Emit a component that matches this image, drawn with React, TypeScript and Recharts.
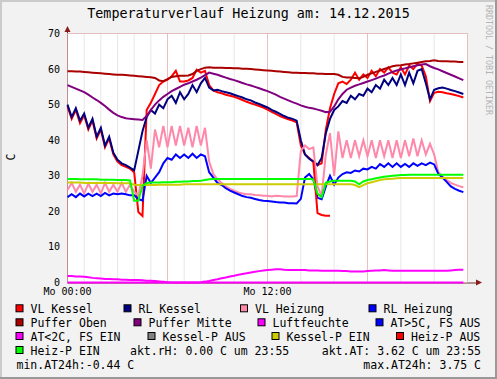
import React from 'react';
import { LineChart, Line, XAxis, YAxis, CartesianGrid } from 'recharts';

// samples every 15 minutes, 00:00 .. 23:45
const VL_KESSEL = [
  49.5, 46, 48.5, 44.8, 47, 43, 45.5, 40.5,
  43, 38, 40.5, 36, 34, 33, 32.5, 32,
  31, 19.8, 18.7, 48.5, 50.5, 53, 55.5, 56.5,
  57, 58, 59.5, 56.5, 56.5, 56.8, 57.5, 59.8,
  59, 59.5, 55.5, 54, 53.5, 53.2, 52.8, 52.5,
  52.2, 51.8, 51.3, 50.8, 50.4, 50, 49.6, 49.2,
  48.6, 48, 47.4, 46.8, 46.3, 45.9, 45.5, 45,
  38.5, 36, 35, 34, 33, 33.5, 43, 49,
  53, 56, 56.5, 55.8, 57, 59, 57, 58.5,
  57.5, 59.5, 58, 60, 59, 60.5, 59, 58.5,
  60.5, 58.5, 61, 60, 61.5, 61, 58, 51,
  53.3, 53.6, 53.5, 53.2, 53, 52.7, 52.4, 52,
];
const RL_KESSEL = [
  50, 46.5, 49, 45.5, 47.5, 43.5, 46, 41,
  43.5, 38.5, 41, 36.5, 34.5, 33.5, 33, 32.3,
  31.5, 37, 42.5, 46.5, 48.5, 47.5, 50, 49,
  51.5, 52.5, 50.5, 53.5, 51.5, 53, 55.5, 53.5,
  56, 57.5, 54.8, 54, 54.2, 53.8, 53.5, 53.2,
  52.8, 52.4, 52, 51.5, 51.2, 50.6, 50.2, 49.7,
  49.2, 48.5, 48, 47.4, 46.8, 46.3, 46, 45.5,
  40, 36, 34.8, 34, 33, 35, 42, 46,
  48.5, 49.5, 51, 50.5, 52.5, 51.5, 53, 52.5,
  54.5, 53.5, 55.5, 54.5, 57, 55.5, 57.5, 55.5,
  58.5, 55.5, 59, 56, 59.5, 60, 56, 51.5,
  54.2, 54.6, 54.8, 54.5, 54.1, 53.8, 53.4, 53,
];
const VL_HEIZUNG = [
  26, 28, 25.5, 27.5, 25, 27.8, 25.5, 27.5,
  25, 28, 25.5, 27.5, 25.5, 28, 25.5, 27.5,
  25.5, 24.5, 30, 40, 32, 43, 38, 44,
  38, 44, 38.5, 44, 38.5, 43.5, 38, 44,
  38.5, 43.5, 34, 30.5, 29, 28, 27, 26.3,
  25.8, 25.3, 25, 24.8, 24.8, 24.6, 24.5, 24.4,
  24.4, 24.2, 24.4, 24.3, 24.2, 24.2, 24.2, 24.3,
  37, 38.5, 37.5, 38, 27, 24.4, 36, 42,
  30, 42.5, 35, 40, 35, 40, 35.5, 40,
  35.5, 40, 35, 40, 35.5, 40, 35, 40,
  35, 40, 35.5, 40.5, 35.5, 40, 36, 39,
  36, 31, 29.8, 28.8, 28, 27.5, 27.1, 26.8,
];
const RL_HEIZUNG = [
  24, 24.8, 24, 25, 24.2, 25, 24.3, 25,
  24.3, 25.2, 24.5, 25, 24.8, 25, 24.8, 24.5,
  24.5, 23.5, 23, 30, 28, 29.5, 31, 33.5,
  35, 34.5, 36, 35, 36, 35, 36.2, 35,
  36, 35.5, 31, 29.5, 28, 27.4, 26.5, 25.8,
  25.3, 24.8, 24.3, 24, 23.8, 23.5, 23.2, 23,
  22.9, 22.8, 22.6, 22.5, 22.5, 22.3, 22.3, 22.2,
  23.5, 29.5, 30.5, 29, 23.8, 23.4, 27, 30,
  27.5, 29.5, 30.5, 31, 30.8, 31.5, 31.2, 32,
  31.8, 32.5, 32, 33.3, 32.5, 33.5, 32.5, 33.5,
  32.5, 33.3, 32.5, 33.5, 32.8, 33.5, 33, 33.7,
  33.2, 30.5, 29.5, 28.3, 27, 26.3, 25.8, 25.4,
];
const PUFFER_OBEN = [
  59.4, 59.4, 59.3, 59.3, 59.2, 59.1, 59, 58.9,
  58.8, 58.7, 58.6, 58.5, 58.4, 58.4, 58.3, 58.2,
  58.1, 58, 57.9, 57.8, 57.7, 57.5, 56.8, 56.6,
  57.2, 57.8, 58, 58.1, 58.1, 58.2, 58.6, 59.5,
  60, 60.4, 60.5, 60.4, 60.4, 60.4, 60.3, 60.3,
  60.2, 60.2, 60.1, 60.1, 60, 59.9, 59.8, 59.7,
  59.6, 59.5, 59.4, 59.3, 59.2, 59.1, 59, 59,
  58.9, 58.9, 58.8, 58.8, 58.7, 58.7, 58.6, 58.6,
  58.6, 58.4, 57.8, 57.6, 57.6, 57.5, 57.4, 57.8,
  58.4, 58.8, 59.2, 59.6, 60, 60.4, 60.8, 61,
  61.1, 61.3, 61.4, 61.6, 61.8, 62, 62.2, 62.3,
  62.5, 62.3, 62.2, 62.2, 62.1, 62.1, 62, 62,
];
const PUFFER_MITTE = [
  55.5, 55, 54.5, 54, 53.5, 52.8, 52, 51.3,
  50.5, 49.6, 48.6, 47.7, 47, 46.5, 46.2, 46,
  45.9, 45.8, 45.7, 46.8, 48.5, 50, 51.2, 52.2,
  53, 53.8, 54.4, 55, 55.6, 56, 56.5, 57,
  57.6, 58.3, 59, 58.7, 58.4, 58, 57.6, 57.2,
  56.9, 56.5, 56.1, 55.7, 55.4, 55, 54.6, 54.2,
  53.8, 53.3, 52.8, 52.2, 51.7, 51.2, 50.7, 50.3,
  49.8, 49.4, 49.1, 48.9, 48.6, 48.3, 47.9, 48,
  49.5, 51.5, 53, 54.2, 54.8, 55.3, 55.7, 56.1,
  56.5, 56.9, 57.3, 57.8, 58.2, 58.7, 59.2, 59.6,
  59.9, 60.2, 60.5, 60.8, 61.1, 61.3, 61.4, 60.8,
  60.3, 59.9, 59.4, 58.9, 58.4, 57.9, 57.4, 56.9,
];
const AUSSEN = [
  1.8, 1.8, 1.7, 1.7, 1.6, 1.5, 1.3, 1.2,
  1.1, 1, 1, 0.9, 0.9, 0.8, 0.8, 0.7,
  0.7, 0.7, 0.6, 0.5, 0.5, 0.4, 0.3, 0.2,
  0.1, 0, 0, 0, 0, 0, 0, 0,
  0.1, 0.25, 0.45, 0.7, 0.9, 1.2, 1.4, 1.7,
  1.9, 2.2, 2.4, 2.6, 2.8, 3, 3.2, 3.4,
  3.5, 3.6, 3.7, 3.75, 3.6, 3.5, 3.5, 3.5,
  3.5, 3.5, 3.4, 3.4, 3.4, 3.3, 3.3, 3.3,
  3.3, 3.3, 3.2, 3.2, 3.1, 3.1, 3.1, 3.1,
  3.2, 3.3, 3.4, 3.4, 3.5, 3.4, 3.3, 3.3,
  3.3, 3.3, 3.3, 3.3, 3.3, 3.3, 3.3, 3.3,
  3.3, 3.3, 3.3, 3.3, 3.4, 3.5, 3.6, 3.6,
];
const KESSEL_P_EIN = [
  28.1, 28.1, 28.1, 28.1, 28, 28, 28, 28,
  28, 28, 28, 28, 27.9, 27.9, 27.9, 27.9,
  27.5, 27.4, 27.4, 27.4, 27.4, 27.4, 27.5, 27.5,
  27.5, 27.5, 27.5, 27.5, 27.6, 27.6, 27.6, 27.6,
  27.6, 27.6, 27.6, 27.6, 27.6, 27.6, 27.6, 27.6,
  27.6, 27.6, 27.6, 27.6, 27.6, 27.6, 27.6, 27.6,
  27.6, 27.6, 27.6, 27.6, 27.6, 27.6, 27.6, 27.6,
  27.6, 27.6, 27.6, 27.6, 27.6, 27.6, 27.6, 27.6,
  27.6, 27.6, 27.6, 27.6, 27.6, 27.4, 26.8, 27.4,
  27.9, 28.2, 28.5, 28.8, 29, 29.1, 29.2, 29.3,
  29.4, 29.4, 29.4, 29.4, 29.4, 29.4, 29.4, 29.4,
  29.4, 29.4, 29.4, 29.4, 29.4, 29.4, 29.4, 29.4,
];
const HEIZ_P_EIN = [
  29.1, 29.1, 29.1, 29, 29, 29, 29, 29,
  28.9, 28.9, 28.9, 28.9, 28.8, 28.8, 28.8, 28.7,
  23, 23, 27.2, 28, 28.1, 28.1, 28.1, 28.2,
  28.2, 28.2, 28.3, 28.3, 28.4, 28.4, 28.5, 28.5,
  28.6, 28.8, 29, 29.1, 29.1, 29.1, 29.1, 29.1,
  29.1, 29.1, 29.1, 29.1, 29.1, 29.1, 29.1, 29.1,
  29.1, 29.1, 29.1, 29.1, 29.1, 29.1, 29.1, 29.1,
  29.1, 29.1, 29.1, 29, 25, 24, 28.1, 28.4,
  28.6, 28.6, 28.6, 28.6, 28.6, 28.4, 27.6, 28.4,
  28.8, 29, 29.3, 29.5, 29.7, 29.9, 30, 30.1,
  30.2, 30.2, 30.3, 30.3, 30.3, 30.3, 30.3, 30.3,
  30.3, 30.3, 30.3, 30.3, 30.3, 30.3, 30.3, 30.3,
];
// short series with their own time stamps (hours)
const HEIZ_P_AUS_T = [14.75, 15, 15.25, 15.5, 15.75];
const HEIZ_P_AUS = [34, 19.5, 19, 18.8, 18.8];
const LUFTFEUCHTE_T = [0, 23.75];
const LUFTFEUCHTE = [0, 0];

const TIMES = VL_KESSEL.map((_, i) => i * 0.25);
const X_LABELS = [0, 12];
const X_MINOR = [1, 2, 3, 4, 5, 6, 7, 8, 9, 10, 11, 12, 13, 14, 15, 16, 17, 18, 19, 20, 21, 22, 23, 24];
const X_MAJOR = [6, 12, 18, 24];
const Y_TICKS = [0, 10, 20, 30, 40, 50, 60, 70];
const Y_MINOR = [2, 4, 6, 8, 10, 12, 14, 16, 18, 20, 22, 24, 26, 28, 30, 32, 34, 36, 38, 40, 42, 44, 46, 48, 50, 52, 54, 56, 58, 60, 62, 64, 66, 68, 70];
const Y_MAJOR = [10, 20, 30, 40, 50, 60, 70];

const data = TIMES.map((t, i) => ({
  t,
  vlKessel: VL_KESSEL[i],
  rlKessel: RL_KESSEL[i],
  vlHeizung: VL_HEIZUNG[i],
  rlHeizung: RL_HEIZUNG[i],
  pufferOben: PUFFER_OBEN[i],
  pufferMitte: PUFFER_MITTE[i],
  aussen: AUSSEN[i],
  kesselPEin: KESSEL_P_EIN[i],
  heizPEin: HEIZ_P_EIN[i],
}));
const heizPAusData = HEIZ_P_AUS_T.map((t, i) => ({ t, heizPAus: HEIZ_P_AUS[i] }));
const luftData = LUFTFEUCHTE_T.map((t, i) => ({ t, luft: LUFTFEUCHTE[i] }));

const MONO = '"DejaVu Sans Mono", monospace';

// legend rows: [label, colour, box x]
const LEGEND = [
  [['VL Kessel', '#ff0000', 15.5], ['RL Kessel', '#000080', 123.5], ['VL Heizung', '#ff88aa', 240], ['RL Heizung', '#0000ff', 368.5]],
  [['Puffer Oben', '#aa0000', 15.5], ['Puffer Mitte', '#800080', 133.5], ['Luftfeuchte', '#ff00ff', 257.5], ['AT>5C, FS AUS', '#0000ff', 375.5]],
  [['AT<2C, FS EIN', '#ff00ff', 15.5], ['Kessel-P AUS', '#808080', 147.5], ['Kessel-P EIN', '#cccc00', 271.5], ['Heiz-P AUS', '#ff0000', 396]],
  [['Heiz-P EIN', '#00ff00', 15.5]],
] as [string, string, number][][];
const ROW_BASE = [313.3, 327.3, 341, 355, 369];

export default function App() {
  return (
    <div style={{ position: 'absolute', left: 0, top: 0, width: 497, height: 379, background: '#f2f2f2', overflow: 'hidden' }}>
      <svg width={497} height={379} style={{ position: 'absolute', left: 0, top: 0 }}>
        <rect x={67.5} y={33.5} width={400} height={249} fill="#ffffff" />
        <line x1={67.5} y1={283} x2={478} y2={283} stroke="#6b3030" strokeWidth={1} />
        <line x1={67.5} y1={283} x2={67.5} y2={30} stroke="#6b3030" strokeWidth={1} />
        <polygon points="67.5,26 64.5,32 70.5,32" fill="#8b1a1a" />
        <polygon points="482,282.5 476,279.5 476,285.5" fill="#8b1a1a" />
        <rect x={0} y={0} width={497} height={2} fill="#cbcbcb" />
        <rect x={0} y={0} width={2} height={379} fill="#cbcbcb" />
        <rect x={0} y={377} width={497} height={2} fill="#999999" />
        <rect x={495} y={0} width={2} height={379} fill="#999999" />
      </svg>
      <div style={{ position: 'absolute', left: 0, top: 0 }}>
        <LineChart width={497} height={379} data={data} margin={{ top: 33.5, right: 29.5, bottom: 76.5, left: 0 }}>
          <XAxis xAxisId="main" dataKey="t" type="number" domain={[0, 24]} ticks={X_LABELS} interval={0}
            tickFormatter={(v: number) => (v === 0 ? 'Mo 00:00' : 'Mo 12:00')}
            height={20} axisLine={false} tickLine={false} tickSize={0} tickMargin={5.5}
            tick={{ fontFamily: MONO, fontSize: 10, fill: '#000' }} allowDecimals={false} />
          <XAxis xAxisId="minor" dataKey="t" type="number" domain={[0, 24]} ticks={X_MINOR} hide />
          <XAxis xAxisId="major" dataKey="t" type="number" domain={[0, 24]} ticks={X_MAJOR} hide />
          <YAxis yAxisId="main" domain={[0, 70]} ticks={Y_TICKS} interval={0} width={67.5}
            axisLine={false} tickLine={false} tickSize={0} tickMargin={7.5}
            tick={{ fontFamily: MONO, fontSize: 10, fill: '#000' }} />
          <YAxis yAxisId="minor" domain={[0, 70]} ticks={Y_MINOR} hide />
          <YAxis yAxisId="major" domain={[0, 70]} ticks={Y_MAJOR} hide />
          <CartesianGrid xAxisId="minor" yAxisId="minor" stroke="#cfcfcf" strokeDasharray="1 1" />
          <CartesianGrid xAxisId="major" yAxisId="major" stroke="#e69a9a" strokeDasharray="1 1" />
          <Line xAxisId="main" yAxisId="main" dataKey="vlKessel" stroke="#ff0000" strokeWidth={2} dot={false} isAnimationActive={false} />
          <Line xAxisId="main" yAxisId="main" dataKey="rlKessel" stroke="#000080" strokeWidth={2} dot={false} isAnimationActive={false} />
          <Line xAxisId="main" yAxisId="main" dataKey="vlHeizung" stroke="#ff88aa" strokeWidth={2} dot={false} isAnimationActive={false} />
          <Line xAxisId="main" yAxisId="main" dataKey="rlHeizung" stroke="#0000ff" strokeWidth={2} dot={false} isAnimationActive={false} />
          <Line xAxisId="main" yAxisId="main" dataKey="pufferOben" stroke="#aa0000" strokeWidth={2} dot={false} isAnimationActive={false} />
          <Line xAxisId="main" yAxisId="main" dataKey="pufferMitte" stroke="#800080" strokeWidth={2} dot={false} isAnimationActive={false} />
          <Line xAxisId="main" yAxisId="main" data={luftData} dataKey="luft" stroke="#ff00ff" strokeWidth={2} dot={false} isAnimationActive={false} />
          <Line xAxisId="main" yAxisId="main" dataKey="aussen" stroke="#ff00ff" strokeWidth={2} dot={false} isAnimationActive={false} />
          <Line xAxisId="main" yAxisId="main" dataKey="kesselPEin" stroke="#cccc00" strokeWidth={2} dot={false} isAnimationActive={false} />
          <Line xAxisId="main" yAxisId="main" data={heizPAusData} dataKey="heizPAus" stroke="#ff0000" strokeWidth={2} dot={false} isAnimationActive={false} />
          <Line xAxisId="main" yAxisId="main" dataKey="heizPEin" stroke="#00ff00" strokeWidth={2} dot={false} isAnimationActive={false} />
        </LineChart>
      </div>
      <svg width={497} height={379} style={{ position: 'absolute', left: 0, top: 0, pointerEvents: 'none' }}>
        <text x={248.5} y={18.4} textAnchor="middle" fontFamily={MONO} fontSize={13.4} fill="#000">
          Temperaturverlauf Heizung am: 14.12.2015
        </text>
        <text x={485.5} y={5} transform="rotate(90 485.5 5)" fontFamily={MONO} fontSize={8.3} fill="#b4b4b4">
          RRDTOOL / TOBI OETIKER
        </text>
        <text x={15} y={157} transform="rotate(-90 15 157)" textAnchor="middle" fontFamily={MONO} fontSize={11.5} fill="#000">
          C
        </text>
        {LEGEND.map((row, r) =>
          row.map(([label, color, bx]) => (
            <g key={label}>
              <rect x={bx + 0.5} y={ROW_BASE[r] - 8.5} width={7} height={7} fill={color} stroke="#000" strokeWidth={1} />
              <text x={bx + 15} y={ROW_BASE[r]} fontFamily={MONO} fontSize={11.5} fill="#000">{label}</text>
            </g>
          )),
        )}
        <text x={130} y={ROW_BASE[3]} fontFamily={MONO} fontSize={11.5} fill="#000">akt.rH: 0.00 C um 23:55</text>
        <text x={481} y={ROW_BASE[3]} textAnchor="end" fontFamily={MONO} fontSize={11.5} fill="#000">akt.AT: 3.62 C um 23:55</text>
        <text x={16.5} y={ROW_BASE[4]} fontFamily={MONO} fontSize={11.5} fill="#000">min.AT24h:-0.44 C</text>
        <text x={481} y={ROW_BASE[4]} textAnchor="end" fontFamily={MONO} fontSize={11.5} fill="#000">max.AT24h: 3.75 C</text>
      </svg>
    </div>
  );
}
